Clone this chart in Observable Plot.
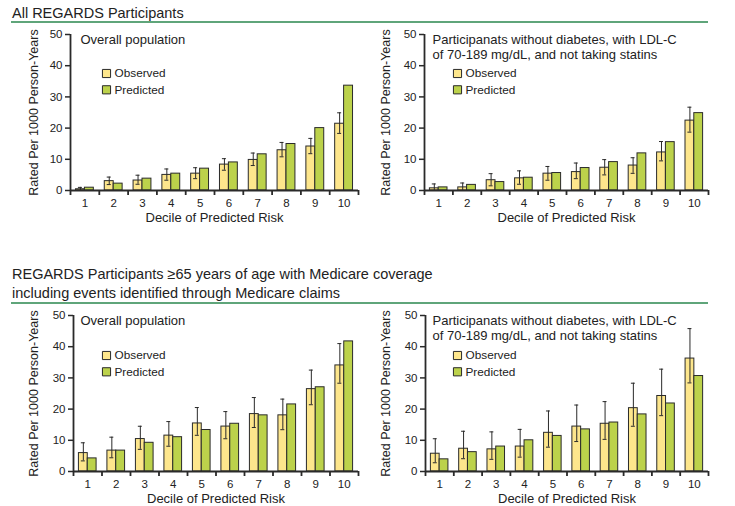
<!DOCTYPE html>
<html><head><meta charset="utf-8">
<script src="https://cdn.jsdelivr.net/npm/d3@7"></script>
<script src="https://cdn.jsdelivr.net/npm/@observablehq/plot@0.6"></script>
<style>
body{margin:0;overflow:hidden;background:#fff;font-family:"Liberation Sans",Arial,sans-serif;}
#root{position:relative;width:735px;height:506px;}
.title{position:absolute;left:12px;font-size:14.5px;color:#222;line-height:18.5px;white-space:nowrap;}
.rule{position:absolute;left:11px;width:697px;height:2px;background:#5fa57a;}
.panel{position:absolute;}
</style></head><body>
<div id="root">
  <div class="title" style="top:4px">All REGARDS Participants</div>
  <div class="rule" style="top:21px"></div>
  <div class="title" style="top:265px">REGARDS Participants ≥65 years of age with Medicare coverage<br>including events identified through Medicare claims</div>
  <div class="rule" style="top:302px"></div>
  <div class="panel" id="p1" style="left:0;top:25px"></div>
  <div class="panel" id="p2" style="left:365px;top:25px"></div>
  <div class="panel" id="p3" style="left:0;top:306px"></div>
  <div class="panel" id="p4" style="left:365px;top:306px"></div>
</div>
<script>
const deciles = [1, 2, 3, 4, 5, 6, 7, 8, 9, 10];
const seriesNames = ["Observed", "Predicted"];
const yTicks = [0, 10, 20, 30, 40, 50];
const yLabel = "Rated Per 1000 Person-Years";
const xLabel = "Decile of Predicted Risk";
const titleOverall = "Overall population";
const titleSubgroup = "Participanats without diabetes, with LDL-C\nof 70-189 mg/dL, and not taking statins";

// Panel A: All REGARDS, overall population
const aObs  = [0.4, 3.0, 3.2, 5.0, 5.4, 8.3, 9.8, 12.9, 14.1, 21.4];
const aLo   = [0.0, 1.9, 2.0, 3.3, 3.8, 6.5, 8.0, 10.8, 11.8, 18.3];
const aHi   = [1.0, 4.3, 4.9, 6.9, 7.3, 10.2, 12.0, 15.4, 16.7, 24.9];
const aPred = [0.9, 2.2, 3.8, 5.4, 7.0, 9.0, 11.6, 14.9, 20.0, 33.6];

// Panel B: All REGARDS, subgroup
const bObs  = [0.7, 1.0, 3.3, 3.9, 5.4, 5.9, 7.3, 8.0, 12.2, 22.4];
const bLo   = [0.0, 0.0, 1.5, 2.0, 3.3, 3.8, 5.0, 5.5, 9.5, 18.7];
const bHi   = [2.1, 2.4, 5.4, 6.3, 7.7, 8.8, 9.9, 10.5, 15.7, 26.7];
const bPred = [1.0, 1.8, 2.7, 4.1, 5.6, 7.2, 9.1, 11.9, 15.5, 24.8];

// Panel C: >=65 with Medicare, overall population
const cObs  = [5.9, 6.7, 10.4, 11.5, 15.4, 14.4, 18.4, 18.0, 26.4, 34.0];
const cLo   = [3.4, 4.4, 7.1, 8.1, 11.6, 10.5, 14.1, 13.4, 21.4, 28.3];
const cHi   = [9.2, 11.0, 14.5, 16.0, 20.5, 19.2, 23.7, 23.2, 32.5, 41.0];
const cPred = [4.2, 6.7, 9.2, 11.0, 13.3, 15.3, 18.0, 21.5, 27.0, 41.7];

// Panel D: >=65 with Medicare, subgroup
const dObs  = [5.7, 7.3, 7.1, 8.0, 12.4, 14.4, 15.3, 20.3, 24.2, 36.2];
const dLo   = [2.8, 4.1, 3.9, 4.6, 7.8, 9.6, 10.3, 14.5, 17.9, 28.4];
const dHi   = [10.5, 12.9, 12.7, 13.5, 19.4, 21.3, 22.4, 28.3, 32.8, 45.8];
const dPred = [3.9, 6.2, 8.0, 10.0, 11.4, 13.5, 15.7, 18.3, 21.8, 30.6];

const colors = ["#fde68c", "#bcd24b"];
const ink = "#2a2a2a";
const halfBar = 0.31;
const errOffset = -0.155;
const capHalf = 0.07;

function panel(obs, lo, hi, pred, title, o) {
  const rows = deciles.flatMap((d, i) => [
    {decile: d, series: "Observed", value: obs[i]},
    {decile: d, series: "Predicted", value: pred[i]}
  ]);
  const err = deciles.map((d, i) => ({decile: d, lo: lo[i], hi: hi[i]}));
  const boundaries = d3.range(deciles[0] - 0.5, deciles[deciles.length - 1] + 1, 1);
  const legendMarks = seriesNames.flatMap((s, i) => [
    Plot.dot([s], {frameAnchor: "top-left", dx: o.legDx, dy: o.legDy + i * 16.3, symbol: "square", r: 4.6, fill: d => d, stroke: ink, strokeWidth: 1}),
    Plot.text([s], {frameAnchor: "top-left", dx: o.legDx + 8, dy: o.legDy + i * 16.3, text: d => d, textAnchor: "start", lineAnchor: "middle", fontSize: 11.8, fill: "#222"})
  ]);
  return Plot.plot({
    width: 367, height: 200,
    marginLeft: o.ml, marginRight: o.mr, marginTop: 9, marginBottom: 35,
    style: {fontFamily: "Liberation Sans, Arial, sans-serif", fontSize: "11.5px", color: "#222", background: "transparent"},
    x: {type: "linear", domain: [0.5, 10.5]},
    y: {domain: [0, 50]},
    color: {domain: seriesNames, range: colors},
    marks: [
      Plot.rectY(rows, {
        x1: d => d.decile + (d.series === "Observed" ? -halfBar : 0),
        x2: d => d.decile + (d.series === "Observed" ? 0 : halfBar),
        y: "value", fill: "series", stroke: ink, strokeWidth: 1
      }),
      Plot.ruleX(err, {x: d => d.decile + errOffset, y1: "lo", y2: "hi", stroke: ink, strokeWidth: 1}),
      Plot.ruleY(err, {y: "hi", x1: d => d.decile + errOffset - capHalf, x2: d => d.decile + errOffset + capHalf, stroke: ink, strokeWidth: 1}),
      Plot.ruleY(err, {y: "lo", x1: d => d.decile + errOffset - capHalf, x2: d => d.decile + errOffset + capHalf, stroke: ink, strokeWidth: 1}),
      Plot.ruleY([0], {stroke: ink, strokeWidth: 1.8}),
      Plot.ruleX([0.5], {y1: 0, y2: 50, stroke: ink, strokeWidth: 1.8}),
      Plot.axisY({ticks: yTicks, tickSize: 5, tickPadding: 3, strokeWidth: 1.5, stroke: ink, label: null, fontSize: 11.5}),
      Plot.axisX({ticks: boundaries, tickSize: 5, strokeWidth: 1.8, stroke: ink, tickFormat: () => "", label: null}),
      Plot.axisX({ticks: deciles, tickSize: 0, tickPadding: 8, tickFormat: d => String(d), label: null, fontSize: 11.5}),
      Plot.text([yLabel], {frameAnchor: "left", dx: o.ylx, rotate: -90, text: d => d, textAnchor: "middle", lineAnchor: "middle", fontSize: 12.5, fill: "#222"}),
      Plot.text([xLabel], {frameAnchor: "bottom", dy: 27, text: d => d, textAnchor: "middle", lineAnchor: "middle", fontSize: 13, fill: "#222"}),
      Plot.text([title], {frameAnchor: "top-left", dx: o.tdx, dy: 0, text: d => d, textAnchor: "start", lineAnchor: "top", lineHeight: 1.08, fontSize: 13, fill: "#222"}),
      ...legendMarks
    ]
  });
}

document.getElementById("p1").append(panel(aObs, aLo, aHi, aPred, titleOverall, {ml: 70, mr: 9, ylx: -37, tdx: 10, legDx: 36, legDy: 39}));
document.getElementById("p2").append(panel(bObs, bLo, bHi, bPred, titleSubgroup, {ml: 59, mr: 24, ylx: -39, tdx: 8, legDx: 33, legDy: 39}));
document.getElementById("p3").append(panel(cObs, cLo, cHi, cPred, titleOverall, {ml: 73, mr: 9, ylx: -40, tdx: 7, legDx: 33, legDy: 40}));
document.getElementById("p4").append(panel(dObs, dLo, dHi, dPred, titleSubgroup, {ml: 60, mr: 24, ylx: -40, tdx: 7, legDx: 32, legDy: 40}));
</script>
</body></html>
